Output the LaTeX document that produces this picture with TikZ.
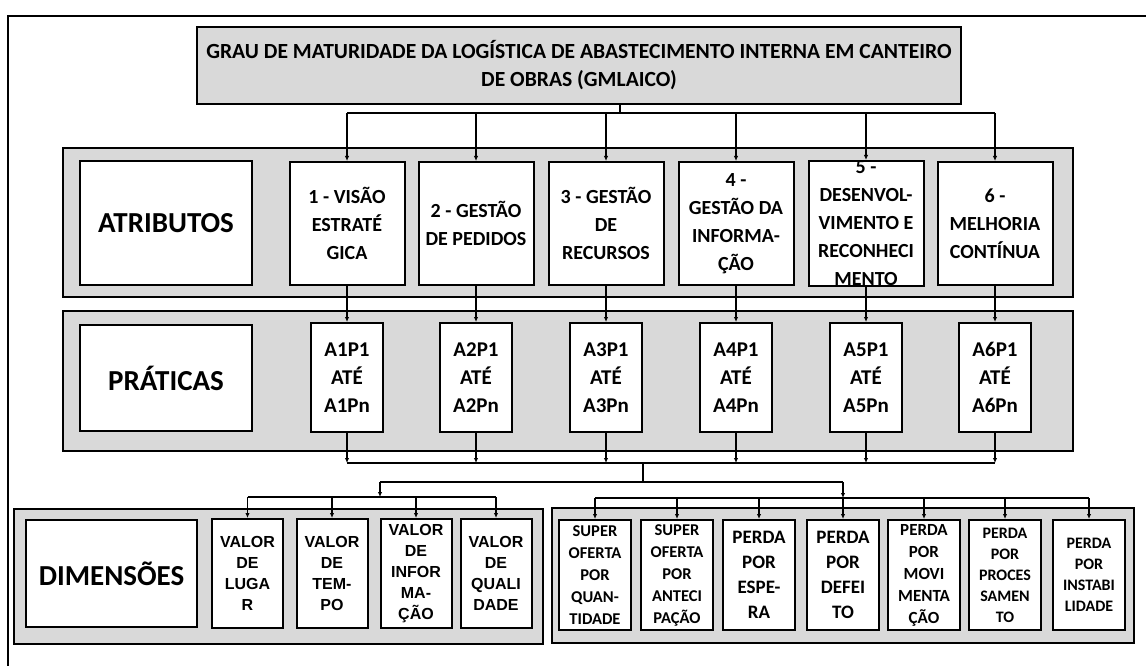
\documentclass[tikz,border=0pt]{standalone}
\usepackage{fontspec}
\setmainfont{Carlito}
\newfontfamily\arialf{Liberation Sans}
\usetikzlibrary{arrows.meta}
\definecolor{panelgray}{RGB}{217,217,217}
\tikzset{
  fs/.style 2 args={font=\fontsize{#1}{#2}\selectfont\bfseries},
  fsa/.style 2 args={font=\arialf\fontsize{#1}{#2}\selectfont\bfseries},
  panel/.style={draw, line width=2pt, fill=panelgray, inner sep=0pt},
  wbox/.style={draw, line width=2pt, fill=white, inner sep=0pt, align=center},
  attrbox/.style={wbox, minimum width=115pt, minimum height=123pt, fs={20}{28}},
  pratbox/.style={wbox, minimum width=72pt, minimum height=109pt, fs={21}{28}},
  dimbox/.style={wbox, minimum width=71pt, minimum height=109pt},
  perbox/.style={wbox, minimum width=72pt, minimum height=110pt},
  labbox/.style={wbox, fs={29}{34}},
  conn/.style={line width=1.3pt},
  arr/.style={line width=1.3pt, -{Latex[length=5pt,width=4.5pt]}},
}
\begin{document}
\begin{tikzpicture}[x=1pt,y=-1pt]
\useasboundingbox (0,0) rectangle (1146,666);
% outer frame
\draw[line width=1.6pt] (8,666) -- (8,16) -- (1146,16);

% title
\node[wbox, fill=panelgray, minimum width=764pt, minimum height=77pt, fs={21.6}{28}] (title) at (579,65.5)
  {GRAU DE MATURIDADE DA LOGÍSTICA DE ABASTECIMENTO INTERNA EM CANTEIRO\\DE OBRAS (GMLAICO)};

% panels
\node[panel, minimum width=1010pt, minimum height=149pt] (attrpanel) at (568,222.5) {};
\node[panel, minimum width=1010pt, minimum height=140pt] (pratpanel) at (568,381) {};
\node[panel, minimum width=529pt, minimum height=135pt] (dimpanel) at (278.5,576.5) {};
\node[panel, minimum width=582pt, minimum height=135pt] (perpanel) at (843,575.5) {};

% attributes
\node[labbox, minimum width=172pt, minimum height=124pt] (atrib) at (166,223) {ATRIBUTOS};
\node[attrbox] (a1) at (347,223.5) {1 - VISÃO\\ESTRATÉ\\GICA};
\node[attrbox] (a2) at (476,223.5) {2 - GESTÃO\\DE PEDIDOS};
\node[attrbox] (a3) at (606,223.5) {3 - GESTÃO\\DE\\RECURSOS};
\node[attrbox] (a4) at (736,223.5) {4 -\\GESTÃO DA\\INFORMA-\\ÇÃO};
\node[attrbox] (a5) at (866,223.5) {5 -\\DESENVOL-\\VIMENTO E\\RECONHECI\\MENTO};
\node[attrbox] (a6) at (995,223.5) {6 -\\MELHORIA\\CONTÍNUA};

% practices
\node[labbox, minimum width=172pt, minimum height=106pt] (prat) at (166,378) {PRÁTICAS};
\node[pratbox] (p1) at (347,377.5) {A1P1\\ATÉ\\A1Pn};
\node[pratbox] (p2) at (476,377.5) {A2P1\\ATÉ\\A2Pn};
\node[pratbox] (p3) at (606,377.5) {A3P1\\ATÉ\\A3Pn};
\node[pratbox] (p4) at (736,377.5) {A4P1\\ATÉ\\A4Pn};
\node[pratbox] (p5) at (866,377.5) {A5P1\\ATÉ\\A5Pn};
\node[pratbox] (p6) at (995,377.5) {A6P1\\ATÉ\\A6Pn};

% dimensions
\node[labbox, minimum width=171pt, minimum height=107pt] (dim) at (111.5,573.5) {DIMENSÕES};
\node[dimbox, fsa={16}{21}] (d1) at (247.5,573.5) {VALOR\\DE\\LUGA\\R};
\node[dimbox, fsa={16}{21}] (d2) at (332,573.5) {VALOR\\DE\\TEM-\\PO};
\node[dimbox, fsa={16}{21}] (d3) at (416,573.5) {VALOR\\DE\\INFOR\\MA-\\ÇÃO};
\node[dimbox, fsa={16}{21}] (d4) at (496,573.5) {VALOR\\DE\\QUALI\\DADE};

% losses
\node[perbox, fs={16.5}{22}] (w1) at (595,575) {SUPER\\OFERTA\\POR\\QUAN-\\TIDADE};
\node[perbox, fs={16.5}{22}] (w2) at (677,575) {SUPER\\OFERTA\\POR\\ANTECI\\PAÇÃO};
\node[perbox, fs={19}{25}] (w3) at (759,575) {PERDA\\POR\\ESPE-\\RA};
\node[perbox, fs={19}{25}] (w4) at (843,575) {PERDA\\POR\\DEFEI\\TO};
\node[perbox, fs={17}{22}] (w5) at (924,575) {PERDA\\POR\\MOVI\\MENTA\\ÇÃO};
\node[perbox, fs={16}{21}] (w6) at (1005,575) {PERDA\\POR\\PROCES\\SAMEN\\TO};
\node[perbox, fs={16}{21}] (w7) at (1089,575) {PERDA\\POR\\INSTABI\\LIDADE};

% connector coordinates
\coordinate (tb) at (620,113);
\coordinate (col) at (643,463);
\coordinate (split) at (643,482);
\coordinate (lj) at (380,482);
\coordinate (rj) at (843,482);
\coordinate (lbus) at (380,497);
\coordinate (rbus) at (843,498);

% title to attributes
\draw[conn] (title.south -| tb) -- (tb);
\draw[conn] (a1.north |- tb) -- (a6.north |- tb);
\foreach \i in {1,...,6} {
  \draw[arr] (a\i.north |- tb) -- (a\i.north);
  \draw[arr] (a\i.south) -- (p\i.north);
  \draw[arr] (p\i.south) -- (p\i.south |- col);
}
\draw[conn] (p1.south |- col) -- (p6.south |- col);
\draw[conn] (col) -- (split);
\draw[conn] (lj) -- (rj);
\draw[arr] (lj) -- (lbus);
\draw[arr] (rj) -- (rbus);
\draw[conn] (d1.north |- lbus) -- (d4.north |- lbus);
\foreach \i in {1,...,4} {
  \draw[arr] (d\i.north |- lbus) -- (d\i.north);
}
\draw[conn] (w1.north |- rbus) -- (w7.north |- rbus);
\foreach \i in {1,...,7} {
  \draw[arr] (w\i.north |- rbus) -- (w\i.north);
}
\end{tikzpicture}
\end{document}
